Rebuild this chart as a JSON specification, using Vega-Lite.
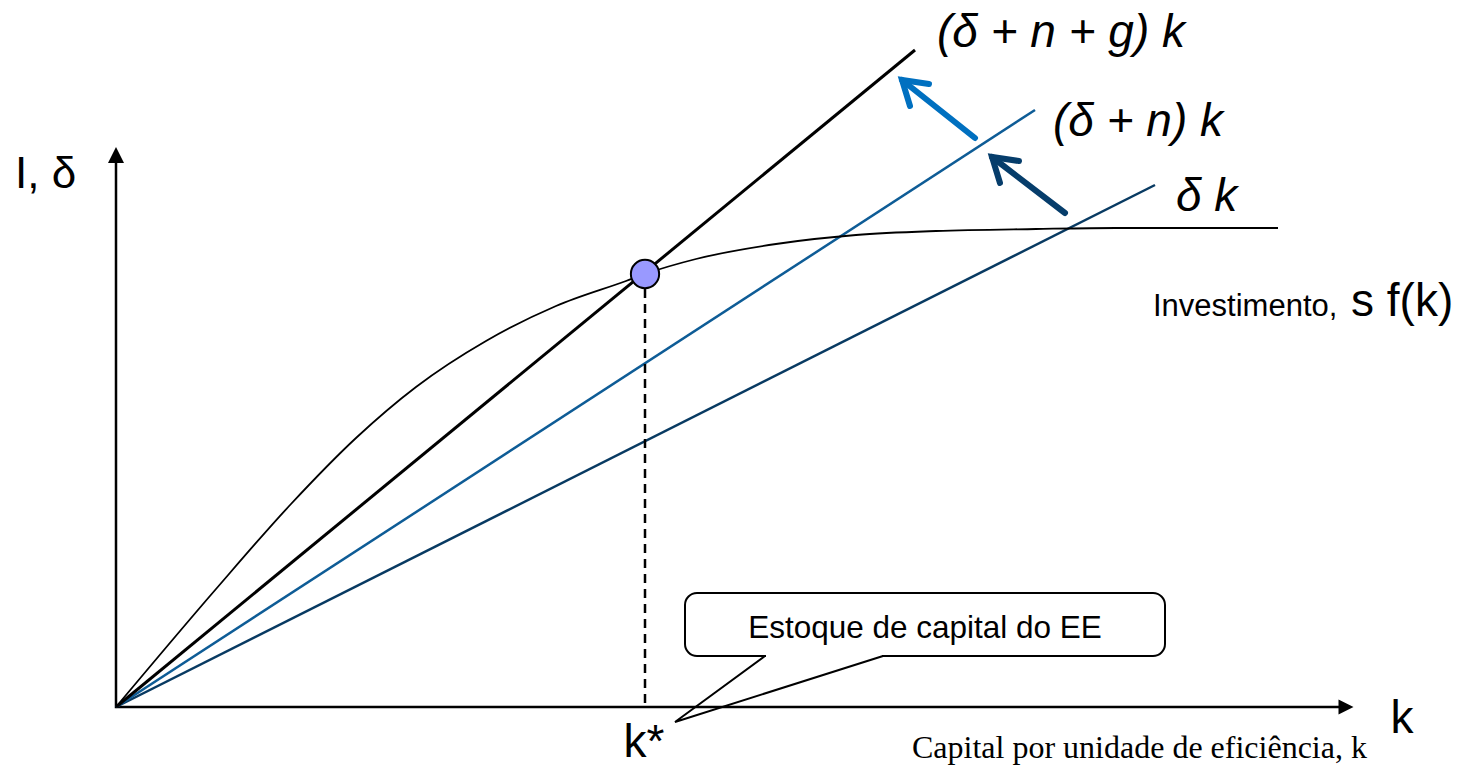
{
  "$schema": "https://vega.github.io/schema/vega-lite/v6.json",
  "width": 1462,
  "height": 767,
  "autosize": {"type": "none"},
  "padding": 0,
  "background": "white",
  "config": {"view": {"stroke": null}},
  "encoding": {
    "x": {"field": "x", "type": "quantitative", "scale": {"domain": [-116, 1346], "nice": false, "zero": false}, "axis": null},
    "y": {"field": "y", "type": "quantitative", "scale": {"domain": [-60, 707], "nice": false, "zero": false}, "axis": null}
  },
  "layer": [
    {
      "data": {"values": [{"x": 0, "y": 550}, {"x": 0, "y": 0}, {"x": 1226, "y": 0}]},
      "mark": {"type": "line", "color": "black", "strokeWidth": 2.5, "strokeJoin": "miter"},
      "encoding": {"order": {"value": null}}
    },
    {
      "data": {"values": [{"x": 0, "y": 552}]},
      "mark": {"type": "point", "filled": true, "opacity": 1, "color": "black", "shape": "M0,-1L1,1L-1,1Z", "size": 256, "angle": 0}
    },
    {
      "data": {"values": [{"x": 1230, "y": 0}]},
      "mark": {"type": "point", "filled": true, "opacity": 1, "color": "black", "shape": "M0,-1L1,1L-1,1Z", "size": 225, "angle": 90}
    },
    {
      "data": {"values": [{"x": 0, "y": 0}, {"x": 1039, "y": 522}]},
      "mark": {"type": "line", "color": "#083a62", "strokeWidth": 2.5},
      "encoding": {"order": {"value": null}}
    },
    {
      "data": {"values": [{"x": 0, "y": 0}, {"x": 919, "y": 597}]},
      "mark": {"type": "line", "color": "#0e5c96", "strokeWidth": 2.5},
      "encoding": {"order": {"value": null}}
    },
    {
      "data": {"values": [{"x": 0, "y": 0}, {"x": 799, "y": 657}]},
      "mark": {"type": "line", "color": "black", "strokeWidth": 3},
      "encoding": {"order": {"value": null}}
    },
    {
      "data": {"values": [
        {"x": 0, "y": 0}, {"x": 100, "y": 118}, {"x": 175, "y": 203}, {"x": 240, "y": 269},
        {"x": 300, "y": 320}, {"x": 370, "y": 366}, {"x": 440, "y": 401}, {"x": 510, "y": 426},
        {"x": 529, "y": 433}, {"x": 580, "y": 448}, {"x": 660, "y": 463}, {"x": 740, "y": 472},
        {"x": 820, "y": 476}, {"x": 920, "y": 478}, {"x": 1000, "y": 479}, {"x": 1162, "y": 479}
      ]},
      "mark": {"type": "line", "color": "black", "strokeWidth": 1.8, "interpolate": "monotone"},
      "encoding": {"order": {"value": null}}
    },
    {
      "data": {"values": [{"x": 529, "y": 433}, {"x": 529, "y": 0}]},
      "mark": {"type": "line", "color": "black", "strokeWidth": 2.5, "strokeDash": [9, 6]},
      "encoding": {"order": {"value": null}}
    },
    {
      "data": {"values": [{"x": 529, "y": 433}]},
      "mark": {"type": "point", "shape": "circle", "filled": true, "opacity": 1, "fill": "#9999ff", "stroke": "black", "strokeWidth": 2, "size": 800}
    },
    {
      "data": {"values": [
        {"x": 859, "y": 569, "g": "shaft"}, {"x": 786, "y": 627, "g": "shaft"},
        {"x": 813, "y": 623, "g": "head"}, {"x": 786, "y": 627, "g": "head"}, {"x": 794, "y": 601, "g": "head"}
      ]},
      "mark": {"type": "line", "color": "#0070c0", "strokeWidth": 6, "strokeCap": "round", "strokeJoin": "miter"},
      "encoding": {"detail": {"field": "g"}, "order": {"value": null}}
    },
    {
      "data": {"values": [
        {"x": 949, "y": 494, "g": "shaft"}, {"x": 876, "y": 550, "g": "shaft"},
        {"x": 903, "y": 546, "g": "head"}, {"x": 876, "y": 550, "g": "head"}, {"x": 884, "y": 524, "g": "head"}
      ]},
      "mark": {"type": "line", "color": "#063d6b", "strokeWidth": 6, "strokeCap": "round", "strokeJoin": "miter"},
      "encoding": {"detail": {"field": "g"}, "order": {"value": null}}
    },
    {
      "data": {"values": [{"x": 569, "x2": 1049, "y": 114, "y2": 51}]},
      "mark": {"type": "rect", "fill": "white", "stroke": "black", "strokeWidth": 2, "cornerRadius": 12},
      "encoding": {"x2": {"field": "x2"}, "y2": {"field": "y2"}}
    },
    {
      "data": {"values": [{"x": 650, "y": 51}, {"x": 766, "y": 51}]},
      "mark": {"type": "line", "color": "white", "strokeWidth": 4},
      "encoding": {"order": {"value": null}}
    },
    {
      "data": {"values": [{"x": 649, "y": 51}, {"x": 559, "y": -15}, {"x": 767, "y": 51}]},
      "mark": {"type": "line", "color": "black", "strokeWidth": 2, "strokeJoin": "miter"},
      "encoding": {"order": {"value": null}}
    },
    {
      "data": {"values": [{"x": 809, "y": 69, "t": "Estoque de capital do EE"}]},
      "mark": {"type": "text", "font": "Liberation Sans", "fontSize": 31.5, "align": "center", "baseline": "alphabetic", "color": "black"},
      "encoding": {"text": {"field": "t"}}
    },
    {
      "data": {"values": [{"x": -101, "y": 519, "t": "I, δ"}]},
      "mark": {"type": "text", "font": "Liberation Sans", "fontSize": 44, "align": "left", "baseline": "alphabetic", "color": "black"},
      "encoding": {"text": {"field": "t"}}
    },
    {
      "data": {"values": [
        {"x": 821, "y": 660, "t": "(δ + n + g) k"},
        {"x": 937, "y": 571, "t": "(δ + n) k"},
        {"x": 1060, "y": 496, "t": "δ k"}
      ]},
      "mark": {"type": "text", "font": "Liberation Sans", "fontSize": 46, "fontStyle": "italic", "align": "left", "baseline": "alphabetic", "color": "black"},
      "encoding": {"text": {"field": "t"}}
    },
    {
      "data": {"values": [{"x": 1037, "y": 391, "t": "Investimento,"}]},
      "mark": {"type": "text", "font": "Liberation Sans", "fontSize": 31, "align": "left", "baseline": "alphabetic", "color": "black"},
      "encoding": {"text": {"field": "t"}}
    },
    {
      "data": {"values": [{"x": 1235, "y": 391, "t": "s f(k)"}]},
      "mark": {"type": "text", "font": "Liberation Sans", "fontSize": 46, "align": "left", "baseline": "alphabetic", "color": "black"},
      "encoding": {"text": {"field": "t"}}
    },
    {
      "data": {"values": [{"x": 1286, "y": -26, "t": "k"}]},
      "mark": {"type": "text", "font": "Liberation Sans", "fontSize": 46, "align": "center", "baseline": "alphabetic", "color": "black"},
      "encoding": {"text": {"field": "t"}}
    },
    {
      "data": {"values": [{"x": 528, "y": -50, "t": "k*"}]},
      "mark": {"type": "text", "font": "Liberation Sans", "fontSize": 46, "align": "center", "baseline": "alphabetic", "color": "black"},
      "encoding": {"text": {"field": "t"}}
    },
    {
      "data": {"values": [{"x": 796, "y": -51, "t": "Capital por unidade de eficiência, k"}]},
      "mark": {"type": "text", "font": "Liberation Serif", "fontSize": 32, "align": "left", "baseline": "alphabetic", "color": "black"},
      "encoding": {"text": {"field": "t"}}
    }
  ]
}
